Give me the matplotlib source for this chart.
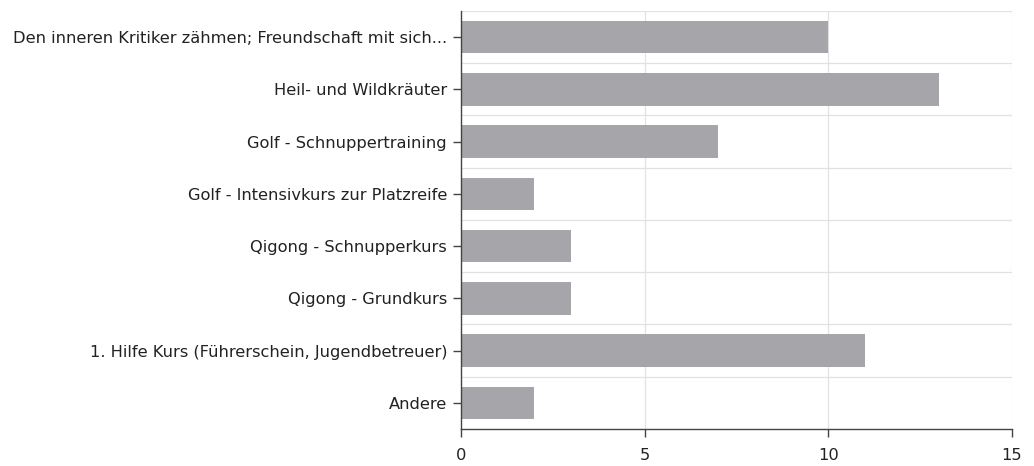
import matplotlib
matplotlib.use("Agg")
import matplotlib.pyplot as plt
import numpy as np

# Kurse und Anzahl der Anmeldungen
kurse = [
    "Den inneren Kritiker zähmen; Freundschaft mit sich...",
    "Heil- und Wildkräuter",
    "Golf - Schnuppertraining",
    "Golf - Intensivkurs zur Platzreife",
    "Qigong - Schnupperkurs",
    "Qigong - Grundkurs",
    "1. Hilfe Kurs (Führerschein, Jugendbetreuer)",
    "Andere",
]
anzahl = [10, 13, 7, 2, 3, 3, 11, 2]
xticks = [0, 5, 10, 15]

fig = plt.figure(figsize=(10.34, 4.66), dpi=100)
ax = fig.add_axes([0.4458, 0.0794, 0.5329, 0.897])

y = np.arange(len(kurse))
ax.barh(y, anzahl, height=0.62, color="#a6a6aa", zorder=2)

ax.set_xlim(0, 15)
ax.set_ylim(len(kurse) - 0.5, -0.5)
ax.set_yticks(y)
ax.set_yticklabels(kurse, fontsize=11.7, color="#222222")
ax.set_xticks(xticks)
ax.set_xticklabels([str(t) for t in xticks], fontsize=11.7, color="#222222")

# Gitterlinien zwischen den Kategorien
for b in np.arange(-0.5, len(kurse) - 0.5, 1.0):
    ax.axhline(b, color="#e2e2e2", lw=0.9, zorder=1)
for t in xticks[1:]:
    ax.axvline(t, color="#e2e2e2", lw=0.9, zorder=1)

for s in ["top", "right"]:
    ax.spines[s].set_visible(False)
for s in ["left", "bottom"]:
    ax.spines[s].set_color("#444444")
    ax.spines[s].set_linewidth(1.0)

ax.tick_params(axis="y", length=6, width=1, color="#444444", pad=4)
ax.tick_params(axis="x", length=6, width=1, color="#444444", pad=8)

fig.savefig("out.png", dpi=100)
